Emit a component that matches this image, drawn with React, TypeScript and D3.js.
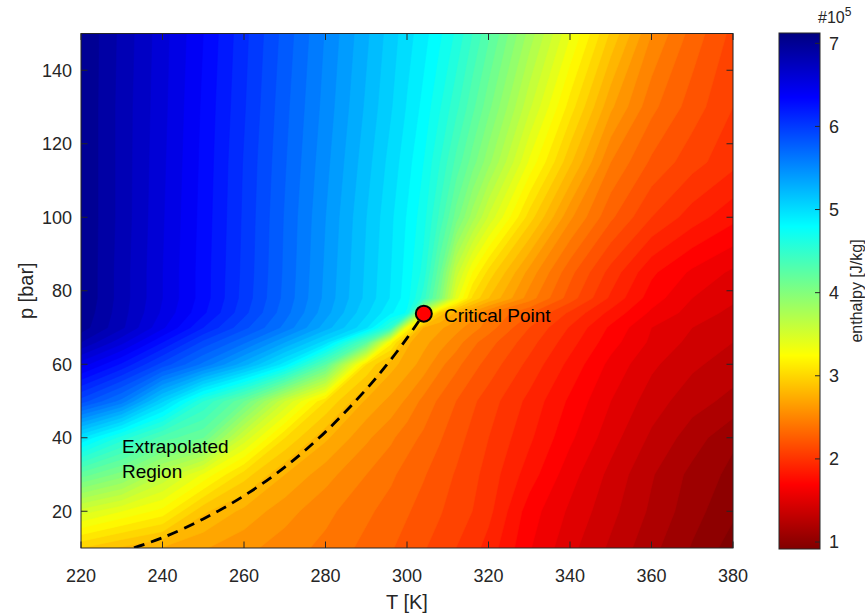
import React from "react";
import * as d3 from "d3";

// ---------- data (enthalpy in 1e5 J/kg) ----------
const T_COLS = [220, 230, 240, 250, 260, 270, 280, 290, 296, 300, 304, 308, 312, 316, 320, 330, 340, 350, 360, 370, 380];
const P_ROWS = [10, 20, 30, 40, 50, 60, 66, 70, 74, 78, 85, 100, 115, 130, 150];

const H_P010 = [3.00, 2.88, 2.79, 2.71, 2.63, 2.55, 2.47, 2.37, 2.31, 2.26, 2.21, 2.16, 2.10, 2.04, 1.96, 1.71, 1.53, 1.38, 1.23, 1.09, 0.95];
const H_P020 = [3.55, 3.40, 3.26, 2.92, 2.77, 2.64, 2.53, 2.42, 2.36, 2.31, 2.26, 2.21, 2.15, 2.10, 2.03, 1.75, 1.58, 1.43, 1.28, 1.14, 1.02];
const H_P030 = [4.25, 4.05, 3.70, 3.38, 3.05, 2.80, 2.64, 2.50, 2.42, 2.36, 2.31, 2.25, 2.19, 2.13, 2.06, 1.85, 1.64, 1.47, 1.31, 1.17, 1.07];
const H_P040 = [5.00, 4.65, 4.35, 4.20, 3.57, 3.10, 2.82, 2.62, 2.52, 2.44, 2.38, 2.31, 2.24, 2.17, 2.10, 1.92, 1.72, 1.54, 1.38, 1.25, 1.12];
const H_P050 = [5.95, 5.66, 5.12, 4.60, 4.20, 3.60, 3.10, 2.78, 2.67, 2.58, 2.47, 2.38, 2.30, 2.22, 2.15, 1.97, 1.78, 1.60, 1.45, 1.34, 1.27];
const H_P060 = [6.55, 6.28, 5.96, 5.67, 5.34, 4.95, 4.30, 3.10, 2.84, 2.75, 2.66, 2.53, 2.43, 2.34, 2.26, 2.07, 1.87, 1.67, 1.52, 1.42, 1.35];
const H_P066 = [6.90, 6.63, 6.30, 5.97, 5.72, 5.40, 5.05, 4.30, 3.24, 2.82, 2.73, 2.65, 2.55, 2.43, 2.34, 2.14, 1.94, 1.74, 1.58, 1.47, 1.40];
const H_P070 = [7.05, 6.82, 6.52, 6.20, 5.93, 5.67, 5.35, 5.02, 4.55, 3.30, 2.80, 2.72, 2.64, 2.55, 2.45, 2.20, 1.99, 1.78, 1.60, 1.50, 1.43];
const H_P074 = [7.08, 6.84, 6.58, 6.32, 6.03, 5.74, 5.44, 5.12, 4.92, 4.78, 3.60, 2.95, 2.78, 2.66, 2.50, 2.31, 2.08, 1.87, 1.68, 1.56, 1.47];
const H_P078 = [7.10, 6.85, 6.60, 6.35, 6.06, 5.77, 5.47, 5.17, 4.99, 4.84, 4.55, 4.08, 3.45, 3.08, 2.90, 2.55, 2.25, 1.98, 1.75, 1.60, 1.52];
const H_P085 = [7.10, 6.85, 6.60, 6.35, 6.07, 5.78, 5.48, 5.18, 5.00, 4.86, 4.66, 4.22, 3.65, 3.30, 3.06, 2.66, 2.33, 2.06, 1.82, 1.68, 1.58];
const H_P100 = [7.10, 6.86, 6.61, 6.36, 6.08, 5.79, 5.50, 5.20, 5.02, 4.89, 4.74, 4.47, 4.15, 3.85, 3.58, 3.05, 2.62, 2.32, 2.10, 1.95, 1.83];
const H_P115 = [7.10, 6.86, 6.62, 6.37, 6.09, 5.81, 5.53, 5.24, 5.06, 4.94, 4.80, 4.60, 4.37, 4.15, 3.93, 3.38, 2.92, 2.50, 2.28, 2.14, 2.03];
const H_P130 = [7.10, 6.86, 6.63, 6.38, 6.11, 5.83, 5.56, 5.28, 5.11, 4.99, 4.87, 4.71, 4.53, 4.33, 4.13, 3.62, 3.15, 2.72, 2.43, 2.25, 2.10];
const H_P150 = [7.10, 6.87, 6.64, 6.40, 6.13, 5.86, 5.59, 5.32, 5.15, 5.04, 4.94, 4.82, 4.68, 4.50, 4.32, 3.86, 3.41, 2.98, 2.60, 2.36, 2.17];

const H_ROWS = [H_P010, H_P020, H_P030, H_P040, H_P050, H_P060, H_P066, H_P070, H_P074, H_P078, H_P085, H_P100, H_P115, H_P130, H_P150];

// saturation line (T [K], p [bar])
const SAT_T = [233.0, 240, 250, 260, 270, 280, 290, 295, 300, 304.13];
const SAT_P = [10.05, 12.8, 17.9, 24.2, 32.0, 41.6, 53.2, 59.8, 67.1, 73.77];

const CRIT_T = 304.13;
const CRIT_P = 73.77;

const X_TICKS = [220, 240, 260, 280, 300, 320, 340, 360, 380];
const Y_TICKS = [20, 40, 60, 80, 100, 120, 140];
const CB_TICKS = [1, 2, 3, 4, 5, 6, 7];
const LEVELS = d3.range(9, 72).map((k) => k / 10);
const C_MIN = 0.916;
const C_MAX = 7.124;

// ---------- layout ----------
const W = 865;
const H = 615;
const PL = 81, PR = 733, PT = 33.5, PB = 548;
const CBL = 779, CBR = 820;
const FONT = "'Liberation Sans', Arial, Helvetica, sans-serif";
const AX = "#262626";

const jet = d3
  .scaleLinear<string>()
  .domain([0, 0.125, 0.375, 0.625, 0.875, 1])
  .range(["#000080", "#0000ff", "#00ffff", "#ffff00", "#ff0000", "#800000"])
  .clamp(true);
const colorOf = (v: number) => jet((C_MAX - v) / (C_MAX - C_MIN));

export default function App() {
  const x = d3.scaleLinear().domain([220, 380]).range([PL, PR]);
  const y = d3.scaleLinear().domain([10, 150]).range([PB, PT]);
  const ix = d3.scaleLinear().domain(T_COLS.map((_, i) => i + 0.5)).range(T_COLS).clamp(true);
  const iy = d3.scaleLinear().domain(P_ROWS.map((_, j) => j + 0.5)).range(P_ROWS).clamp(true);
  const cy = d3.scaleLinear().domain([C_MIN, C_MAX]).range([549, 33]);

  const nx = T_COLS.length;
  const ny = P_ROWS.length;
  const values: number[] = [];
  H_ROWS.forEach((row) => row.forEach((v) => values.push(v)));

  const contours = d3.contours().size([nx, ny]).thresholds(LEVELS)(values);
  const toPath = (mp: any) =>
    mp.coordinates
      .map((poly: number[][][]) =>
        poly
          .map(
            (ring) =>
              "M" +
              ring.map(([a, b]) => `${x(ix(a)).toFixed(2)},${y(iy(b)).toFixed(2)}`).join("L") +
              "Z"
          )
          .join("")
      )
      .join("");

  const satLine = d3
    .line<number>()
    .x((_, i) => x(SAT_T[i]))
    .y((_, i) => y(SAT_P[i]))
    .curve(d3.curveCatmullRom)(SAT_T);

  const gradStops = [0, 0.125, 0.375, 0.625, 0.875, 1];

  return (
    <svg
      width={W}
      height={H}
      style={{ position: "absolute", left: 0, top: 0, background: "#fff" }}
      fontFamily={FONT}
    >
      <defs>
        <clipPath id="plotclip">
          <rect x={PL} y={PT} width={PR - PL} height={PB - PT} />
        </clipPath>
        <linearGradient id="cbgrad" x1="0" y1="0" x2="0" y2="1">
          {gradStops.map((s) => (
            <stop key={s} offset={s} stopColor={jet(s)} />
          ))}
        </linearGradient>
      </defs>
      <rect width={W} height={H} fill="#fff" />

      <g clipPath="url(#plotclip)">
        {contours.map((c: any, i: number) => (
          <path
            key={i}
            d={toPath(c)}
            fill={colorOf(c.value)}
            stroke={colorOf(c.value)}
            strokeWidth={0.6}
            strokeLinejoin="round"
          />
        ))}
        <path
          d={satLine || ""}
          fill="none"
          stroke="#000"
          strokeWidth={2.8}
          strokeDasharray="11,7"
        />
      </g>

      {/* axes box */}
      <rect x={PL} y={PT} width={PR - PL} height={PB - PT} fill="none" stroke={AX} strokeWidth={1} />
      {X_TICKS.map((t) => (
        <g key={"xt" + t}>
          <line x1={x(t)} x2={x(t)} y1={PB} y2={PB - 6.5} stroke={AX} />
          <line x1={x(t)} x2={x(t)} y1={PT} y2={PT + 6.5} stroke={AX} />
          <text x={x(t)} y={582} textAnchor="middle" fontSize={18} fill={AX}>
            {t}
          </text>
        </g>
      ))}
      {Y_TICKS.map((t) => (
        <g key={"yt" + t}>
          <line x1={PL} x2={PL + 6.5} y1={y(t)} y2={y(t)} stroke={AX} />
          <line x1={PR} x2={PR - 6.5} y1={y(t)} y2={y(t)} stroke={AX} />
          <text x={72} y={y(t)} dy="0.35em" textAnchor="end" fontSize={18} fill={AX}>
            {t}
          </text>
        </g>
      ))}
      <text x={(PL + PR) / 2} y={609} textAnchor="middle" fontSize={20} fill={AX}>
        T [K]
      </text>
      <text
        transform={`translate(33,${(PT + PB) / 2}) rotate(-90)`}
        textAnchor="middle"
        fontSize={20}
        fill={AX}
      >
        p [bar]
      </text>

      {/* critical point */}
      <circle cx={x(CRIT_T)} cy={y(CRIT_P)} r={8} fill="#ff0000" stroke="#000" strokeWidth={2} />
      <text x={444} y={321.5} fontSize={19} fill="#000">
        Critical Point
      </text>
      <text x={122} y={452.5} fontSize={19} fill="#000">
        Extrapolated
      </text>
      <text x={122} y={478} fontSize={19} fill="#000">
        Region
      </text>

      {/* colorbar */}
      <rect x={CBL} y={33} width={CBR - CBL} height={516} fill="url(#cbgrad)" stroke={AX} strokeWidth={1} />
      {CB_TICKS.map((t) => (
        <g key={"cb" + t}>
          <line x1={CBR} x2={CBR - 5} y1={cy(t)} y2={cy(t)} stroke={AX} />
          <text x={829} y={cy(t)} dy="0.35em" fontSize={18} fill={AX}>
            {t}
          </text>
        </g>
      ))}
      <text x={818} y={23} fontSize={16} fill={AX}>
        #10
        <tspan dy={-7} fontSize={12}>
          5
        </tspan>
      </text>
      <text
        transform={`translate(862,291) rotate(-90)`}
        textAnchor="middle"
        fontSize={16}
        fill={AX}
      >
        enthalpy [J/kg]
      </text>
    </svg>
  );
}
